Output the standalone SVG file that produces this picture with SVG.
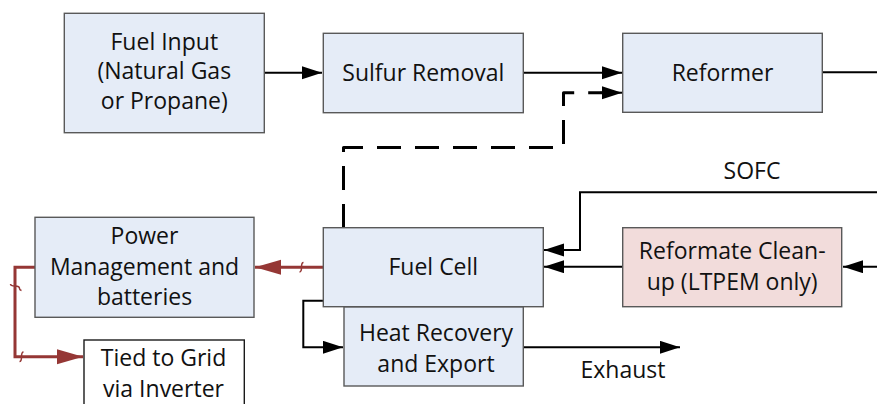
<svg xmlns="http://www.w3.org/2000/svg" width="877" height="404" viewBox="0 0 877 404">
<style>
.box{fill:#e5ecf7;stroke:#595959;stroke-width:1.4}
.pink{fill:#f2dcdb;stroke:#595959;stroke-width:1.4}
.white{fill:#ffffff;stroke:#1a1a1a;stroke-width:1.4}
text{font-family:"Open Sans","Liberation Sans",sans-serif;font-size:23px;fill:#111;text-anchor:middle}
.ln{fill:none;stroke:#000;stroke-width:2}
.dash{fill:none;stroke:#000;stroke-width:3;stroke-dasharray:24 14;stroke-linejoin:round}
.red{fill:none;stroke:#953735;stroke-width:3}
.sq{fill:none;stroke:#953735;stroke-width:1.5}
</style>
<defs>
<marker id="ah" markerUnits="userSpaceOnUse" markerWidth="21" markerHeight="14" refX="20" refY="6.5" orient="auto">
<path d="M0,0 L20,6.5 L0,13 Z" fill="#000"/>
</marker>
<marker id="rh" markerUnits="userSpaceOnUse" markerWidth="27" markerHeight="16" refX="26" refY="7.5" orient="auto">
<path d="M0,0 L26,7.5 L0,15 Z" fill="#953735"/>
</marker>
</defs>
<g id="connectors">
<path class="ln" d="M264,72.7 H322" marker-end="url(#ah)"/>
<path class="ln" d="M523,72.7 H622" marker-end="url(#ah)"/>
<path class="ln" d="M822,72.3 H877"/>
<path class="dash" d="M343.5,228 V147.5 H563.5 V92.7 H605"/>
<path class="ln" d="M600,92.7 H622" marker-end="url(#ah)"/>
<path class="ln" d="M877,192.3 H580 V250 H544" marker-end="url(#ah)"/>
<path class="ln" d="M622.7,266.7 H544" marker-end="url(#ah)"/>
<path class="ln" d="M877,266.7 H843" marker-end="url(#ah)"/>
<path class="ln" d="M323,300.7 H303.3 V347.3 H343" marker-end="url(#ah)"/>
<path class="ln" d="M523,347.3 H680" marker-end="url(#ah)"/>
<path class="red" d="M323,267.3 H255" marker-end="url(#rh)"/>
<path class="red" d="M35,267.3 H15 V356.7 H83" marker-end="url(#rh)"/>
<path class="sq" d="M299.5,272 q2,0 2,-4.7 q0,-4.7 2,-4.7"/>
<path class="sq" d="M19.5,361.5 q2,0 2,-4.8 q0,-4.8 2,-4.8"/>
<path class="sq" d="M10.5,284 q0,2 4.5,2 q4.5,0 4.5,2.5 q0,1.5 2,2"/>
</g>
<g id="fuel-input"><rect class="box" x="64.3" y="13.3" width="200" height="119.4"/>
<text x="164.3" y="49.5">Fuel Input</text><text x="164.3" y="79">(Natural Gas</text><text x="164.3" y="108.5">or Propane)</text></g>
<g id="sulfur-removal"><rect class="box" x="323.3" y="33.3" width="200" height="79.4"/>
<text x="423.3" y="80.5">Sulfur Removal</text></g>
<g id="reformer"><rect class="box" x="622.7" y="33.3" width="199.6" height="79"/>
<text x="722.5" y="80.5">Reformer</text></g>
<g id="power-management"><rect class="box" x="35" y="217.3" width="219" height="100"/>
<text x="144.5" y="244">Power</text><text x="144.5" y="274.5">Management and</text><text x="144.5" y="305">batteries</text></g>
<g id="fuel-cell"><rect class="box" x="323.3" y="227.7" width="220" height="79"/>
<text x="433.3" y="275">Fuel Cell</text></g>
<g id="reformate-cleanup"><rect class="pink" x="622.7" y="227.7" width="219" height="79"/>
<text x="732.2" y="259">Reformate Clean-</text><text x="732.2" y="289.5">up (LTPEM only)</text></g>
<g id="heat-recovery"><rect class="box" x="344" y="307" width="179.3" height="79"/>
<text x="436" y="341">Heat Recovery</text><text x="436" y="372">and Export</text></g>
<g id="grid"><rect class="white" x="84" y="340" width="160.3" height="70"/>
<text x="163.5" y="366">Tied to Grid</text><text x="163.5" y="397">via Inverter</text></g>
<g id="labels"><text x="752" y="179">SOFC</text><text x="623" y="378">Exhaust</text></g>
</svg>
